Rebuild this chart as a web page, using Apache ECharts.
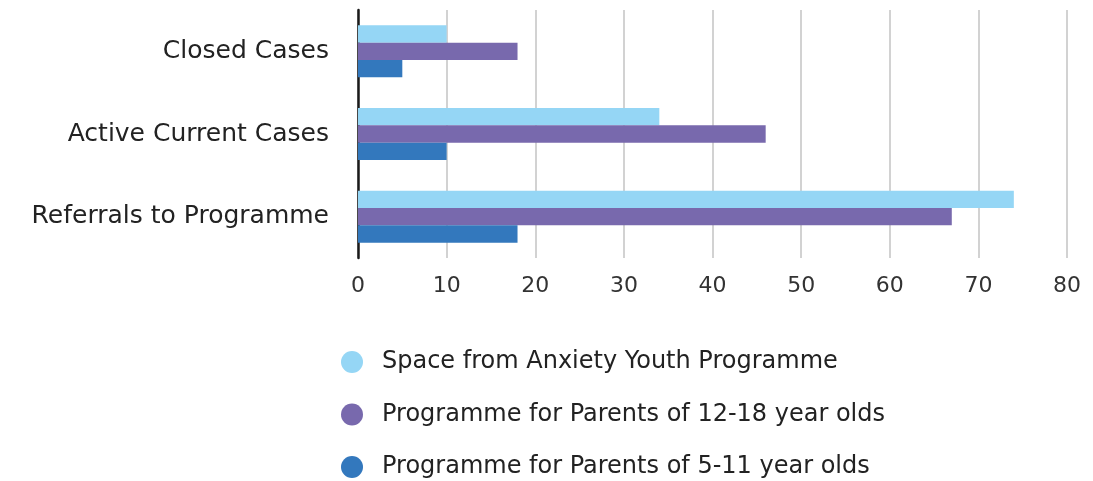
<!DOCTYPE html>
<html><head><meta charset="utf-8">
<script src="https://cdn.jsdelivr.net/npm/echarts@6/dist/echarts.min.js"></script>
<style>html,body{margin:0;padding:0;background:#fff}#c{width:1093px;height:481px}</style>
</head><body><div id="c"></div>
<script>
const categories = ['Closed Cases', 'Active Current Cases', 'Referrals to Programme'];
const seriesNames = ['Space from Anxiety Youth Programme', 'Programme for Parents of 12-18 year olds', 'Programme for Parents of 5-11 year olds'];
const youthValues = [10, 34, 74];
const parents1218Values = [18, 46, 67];
const parents511Values = [5, 10, 18];
const xTicks = { min: 0, max: 80, interval: 10 };
const colors = ['#95d6f5', '#7869ad', '#3378bd'];
const font = '"DejaVu Sans", sans-serif';

const chart = echarts.init(document.getElementById('c'));
const values = [youthValues, parents1218Values, parents511Values];
chart.setOption({
  animation: false,
  color: colors,
  grid: { left: 358, right: 26, top: 10, bottom: 223, containLabel: false },
  xAxis: {
    type: 'value', min: xTicks.min, max: xTicks.max, interval: xTicks.interval,
    axisLine: { show: false }, axisTick: { show: false },
    axisLabel: { color: '#333', fontSize: 22, fontFamily: font, margin: 17 },
    splitLine: { show: true, lineStyle: { color: '#c3c3c3', width: 1.5 } }
  },
  yAxis: {
    type: 'category', data: categories, inverse: true,
    axisLine: { show: true, lineStyle: { color: '#1a1a1a', width: 2.5 } },
    axisTick: { show: false },
    axisLabel: { color: '#222', fontSize: 25, fontFamily: font, margin: 29 }
  },
  legend: {
    orient: 'vertical', left: 341, top: 350, height: 400, padding: 0, itemWidth: 22, itemHeight: 22, itemGap: 28.5,
    icon: 'circle',
    data: seriesNames,
    textStyle: { color: '#222', fontSize: 24, lineHeight: 22, fontFamily: font, padding: [0, 0, 0, 14] }
  },
  series: seriesNames.map((n, i) => ({
    name: n, type: 'bar', data: values[i],
    barGap: '0%', barCategoryGap: '37%'
  }))
});
</script></body></html>
